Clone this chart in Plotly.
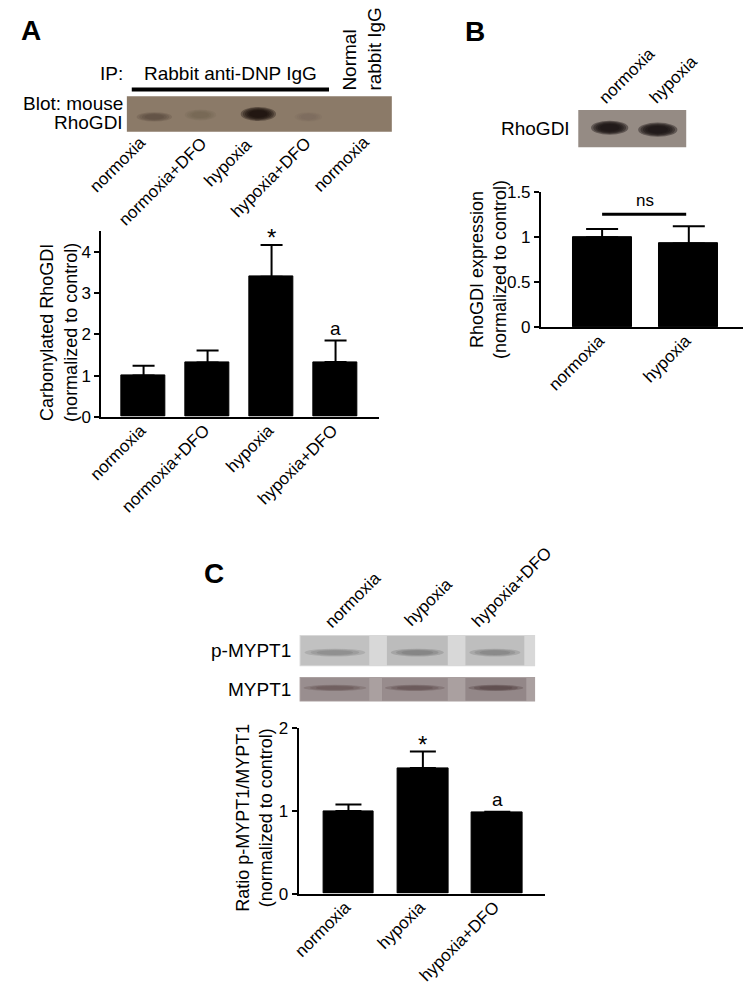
import plotly.graph_objects as go

# ---------------- data ----------------
a_categories = ["normoxia", "normoxia+DFO", "hypoxia", "hypoxia+DFO"]
a_values = [1.0, 1.32, 3.40, 1.33]
a_errors = [0.24, 0.29, 0.77, 0.52]
a_marks = ["", "", "*", "a"]
a_yticks = [0, 1, 2, 3, 4]

b_categories = ["normoxia", "hypoxia"]
b_values = [1.0, 0.93]
b_errors = [0.09, 0.19]
b_yticks = [0, 0.5, 1, 1.5]
b_yticklabels = ["0", "0.5", "1", "1.5"]

c_categories = ["normoxia", "hypoxia", "hypoxia+DFO"]
c_values = [1.0, 1.52, 0.98]
c_errors = [0.08, 0.20, 0.01]
c_marks = ["", "*", "a"]
c_yticks = [0, 1, 2]

blot_a_lanes = ["normoxia", "normoxia+DFO", "hypoxia", "hypoxia+DFO", "normoxia"]
blot_b_lanes = ["normoxia", "hypoxia"]
blot_c_lanes = ["normoxia", "hypoxia", "hypoxia+DFO"]

W, H = 751, 1002
FONT = "Liberation Sans, Arial, sans-serif"


def px(x):
    return x / W


def py(y):
    return 1 - y / H


fig = go.Figure()

for cats, vals, errs, ax, cap in [(a_categories, a_values, a_errors, "", 11),
                                  (b_categories, b_values, b_errors, "2", 16),
                                  (c_categories, c_values, c_errors, "3", 13)]:
    fig.add_trace(go.Bar(x=cats, y=vals, width=0.68,
                         marker=dict(color="black", line=dict(color="black", width=1)),
                         error_y=dict(type="data", array=errs, symmetric=False,
                                      arrayminus=[0] * len(errs), color="black",
                                      thickness=2, width=cap),
                         xaxis="x" + ax, yaxis="y" + ax, showlegend=False))

xcommon = dict(showline=True, linecolor="black", linewidth=2, ticks="",
               tickangle=-45, tickfont=dict(size=17, color="black", family=FONT),
               ticklabelstandoff=-5, ticklabelshift=-3,
               showgrid=False, zeroline=False, fixedrange=True)
ycommon = dict(showline=True, linecolor="black", linewidth=2, ticks="outside",
               ticklen=5, tickwidth=2, tickcolor="black",
               tickfont=dict(size=17, color="black", family=FONT),
               showgrid=False, zeroline=False, fixedrange=True)

fig.update_layout(
    width=W, height=H,
    margin=dict(l=0, r=0, t=0, b=0),
    paper_bgcolor="white", plot_bgcolor="white",
    font=dict(family=FONT, color="black"),
    bargap=0,
    xaxis=dict(domain=[px(89), px(372)], range=[-0.66, 3.68], anchor="y", **xcommon),
    yaxis=dict(domain=[py(415.7), py(226.7)], range=[0, 4.5], anchor="x",
               tickvals=a_yticks, **ycommon),
    xaxis2=dict(domain=[px(537), px(743)], range=[-0.705, 1.627], anchor="y2", **xcommon),
    yaxis2=dict(domain=[py(324.3), py(186.7)], range=[0, 1.5], anchor="x2",
                tickvals=b_yticks, ticktext=b_yticklabels, **ycommon),
    xaxis3=dict(domain=[px(290), px(541)], range=[-0.67, 2.64], anchor="y3", **xcommon),
    yaxis3=dict(domain=[py(901.7), py(733.3)], range=[0, 2], anchor="x3",
                tickvals=c_yticks, **ycommon),
)

ann = []
shapes = []


def text(x, y, s, size=17, xa="center", ya="middle", angle=0, align="center"):
    ann.append(dict(x=px(x), y=py(y), xref="paper", yref="paper", text=s,
                    showarrow=False, xanchor=xa, yanchor=ya, textangle=angle,
                    align=align, borderpad=0,
                    font=dict(size=size, color="black", family=FONT)))


# panel letters
text(6, 22, "<b>A</b>", size=28, xa="left")
text(459, 23, "<b>B</b>", size=28, xa="left")
text(193, 575, "<b>C</b>", size=28, xa="left")

# axis titles
text(46, 330, "Carbonylated RhoGDI<br>(normalized to control)", size=18, angle=-90)
text(484, 265, "RhoGDI expression<br>(normalized to control)", size=18, angle=-90)
text(245, 824, "Ratio p-MYPT1/MYPT1<br>(normalized to control)", size=18, angle=-90)

# significance marks
for axn, cats, vals, errs, marks in [("", a_categories, a_values, a_errors, a_marks),
                                     ("3", c_categories, c_values, c_errors, c_marks)]:
    for cat, v, e, m in zip(cats, vals, errs, marks):
        if m:
            ann.append(dict(x=cat, y=v + e, xref="x" + axn, yref="y" + axn, text=m,
                            showarrow=False, yanchor="bottom",
                            yshift=-8 if m == "*" else 0,
                            font=dict(size=24 if m == "*" else 19, color="black",
                                      family=FONT)))

# ns bracket
shapes.append(dict(type="line", xref="x2", yref="y2", x0=0, x1=0.97, y0=1.255, y1=1.255,
                   line=dict(color="black", width=3)))
ann.append(dict(x=0.49, y=1.41, xref="x2", yref="y2", text="ns", showarrow=False,
                font=dict(size=17, color="black", family=FONT)))

# ---------- blot A ----------
text(112, 66, "IP:", size=19, xa="right")
text(221, 66, "Rabbit anti-DNP IgG", size=19)
shapes.append(dict(type="line", xref="paper", yref="paper", x0=px(120), x1=px(321),
                   y0=py(82), y1=py(82), line=dict(color="black", width=4)))
text(355, 41, "Normal<br>rabbit IgG", size=19, angle=-90, align="left")
text(112, 96, "Blot: mouse", size=19, xa="right")
text(112, 116, "RhoGDI", size=19, xa="right")


def rect(x0, y0, x1, y1, color, opacity=1.0):
    shapes.append(dict(type="rect", xref="paper", yref="paper", x0=px(x0), x1=px(x1),
                       y0=py(y1), y1=py(y0), fillcolor=color, opacity=opacity,
                       line=dict(width=0), layer="above"))


def band(cx, cy, rx, ry, color, opacity, steps=4):
    for i in range(steps):
        f = 1 - i / steps * 0.6
        shapes.append(dict(type="circle", xref="paper", yref="paper",
                           x0=px(cx - rx * f), x1=px(cx + rx * f),
                           y0=py(cy + ry * f * 0.8), y1=py(cy - ry * f * 0.8),
                           fillcolor=color, opacity=opacity, line=dict(width=0),
                           layer="above"))


rect(115, 89, 385, 125, "#8b7a68")
band(143, 110, 18, 6, "#4a3a30", 0.2)
band(190, 108, 16, 7, "#5a4a3e", 0.1)
band(249, 107, 18, 9, "#120a06", 0.33, steps=5)
band(300, 110, 14, 6, "#5a4a3e", 0.06)

lane_a_pos = [(106, 159), (152, 176), (218, 156), (262, 172), (333, 158)]
for lab, (x, y) in zip(blot_a_lanes, lane_a_pos):
    text(x, y, lab, size=17, angle=-45)

# ---------- blot B ----------
text(568, 122, "RhoGDI", size=19, xa="right")
rect(575, 103, 685, 141, "#958b84")
band(607, 121, 19, 9, "#1a1214", 0.42, steps=5)
band(656, 123, 20, 9, "#1a1214", 0.42, steps=5)
lane_b_pos = [(625, 68), (672, 72)]
for lab, (x, y) in zip(blot_b_lanes, lane_b_pos):
    text(x, y, lab, size=17, angle=-45)

# ---------- blot C ----------
text(283, 654, "p-MYPT1", size=19, xa="right")
text(283, 694, "MYPT1", size=19, xa="right")
rect(291, 638, 531, 670, "#d8d8d8")
for x0, x1, dark in [(292, 362, 0.4), (380, 442, 0.5), (460, 520, 0.45)]:
    rect(x0, 639, x1, 669, "#a0a0a0", dark)
    band((x0 + x1) / 2, 656, (x1 - x0) / 2 - 4, 5, "#606060", dark * 0.5, steps=3)
rect(291, 681, 531, 706, "#aaa0a0")
for x0, x1, dark in [(292, 362, 0.35), (375, 442, 0.4), (460, 522, 0.5)]:
    rect(x0, 682, x1, 705, "#7c6e70", dark)
    band((x0 + x1) / 2, 692, (x1 - x0) / 2 - 3, 4, "#4a3636", dark * 0.6, steps=3)
lane_c_pos = [(345, 603), (422, 605), (507, 590)]
for lab, (x, y) in zip(blot_c_lanes, lane_c_pos):
    text(x, y, lab, size=17, angle=-45)

fig.update_layout(annotations=ann, shapes=shapes)
fig.write_html("out.html", config={"displayModeBar": False},
               post_script="document.body.style.margin='0';")
